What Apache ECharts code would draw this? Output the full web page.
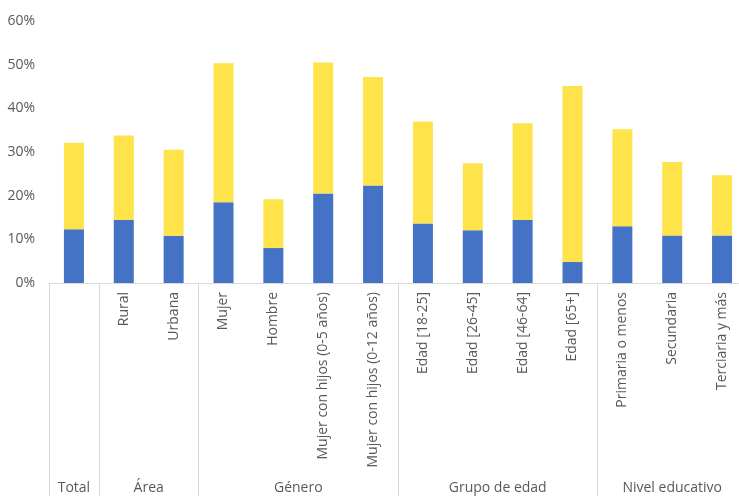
<!DOCTYPE html>
<html>
<head>
<meta charset="utf-8">
<script src="https://cdn.jsdelivr.net/npm/echarts@6/dist/echarts.min.js"></script>
<style>
html,body{margin:0;padding:0;background:#fff;}
#chart{width:739px;height:496px;}
</style>
</head>
<body>
<div id="chart"></div>
<script>
const categories = ['', 'Rural', 'Urbana', 'Mujer', 'Hombre', 'Mujer con hijos (0-5 años)', 'Mujer con hijos (0-12 años)', 'Edad [18-25]', 'Edad [26-45]', 'Edad [46-64]', 'Edad [65+]', 'Primaria o menos', 'Secundaria', 'Terciaria y más'];
const blueValues = [12.3, 14.4, 10.8, 18.5, 8.0, 20.5, 22.3, 13.6, 12.1, 14.4, 4.8, 13.0, 10.9, 10.9];
const yellowValues = [19.8, 19.4, 19.7, 31.8, 11.2, 30.0, 24.9, 23.4, 15.3, 22.2, 40.3, 22.2, 16.8, 13.8];
const groupNames = ['Total', 'Área', 'Género', 'Grupo de edad', 'Nivel educativo'];
const groupSizes = [1, 2, 4, 4, 3];
const yTicks = [0, 10, 20, 30, 40, 50, 60];

// group boundaries and centres (in category units)
const boundaries = [];
const centres = {};
let acc = 0;
groupSizes.forEach((s, i) => {
  boundaries.push(acc);
  centres[(acc + s / 2).toFixed(1)] = groupNames[i];
  acc += s;
});

const chart = echarts.init(document.getElementById('chart'), null, {renderer: 'canvas'});
chart.setOption({
  animation: false,
  grid: {left: 49, right: -8, top: 21, bottom: 213, containLabel: false, outerBoundsMode: 'none'},
  xAxis: [{
    type: 'category',
    data: categories,
    axisLine: {lineStyle: {color: '#D9D9D9', width: 1}},
    axisTick: {
      show: true,
      alignWithLabel: false,
      length: 213,
      interval: (idx) => boundaries.indexOf(idx) >= 0,
      lineStyle: {color: '#D9D9D9', width: 1}
    },
    axisLabel: {
      interval: 0,
      rotate: 90,
      margin: 9,
      color: '#595959',
      fontSize: 14,
      fontFamily: 'Open Sans, sans-serif'
    }
  }, {
    type: 'value',
    position: 'bottom',
    min: 0,
    max: acc,
    interval: 0.5,
    axisLine: {show: false},
    axisTick: {show: false},
    splitLine: {show: false},
    axisLabel: {
      margin: 198,
      color: '#595959',
      fontSize: 14,
      fontFamily: 'Liberation Sans Narrow, Arial Narrow, Open Sans, sans-serif',
      showMinLabel: true,
      showMaxLabel: true,
      formatter: (v) => centres[v.toFixed(1)] || ''
    }
  }],
  yAxis: {
    type: 'value',
    min: yTicks[0],
    max: yTicks[yTicks.length - 1],
    interval: yTicks[1] - yTicks[0],
    axisLine: {show: false},
    axisTick: {show: false},
    splitLine: {show: false},
    axisLabel: {
      margin: 14,
      color: '#595959',
      fontSize: 14,
      fontFamily: 'Open Sans, sans-serif',
      formatter: '{value}%'
    }
  },
  series: [{
    type: 'bar',
    stack: 'a',
    data: blueValues,
    barWidth: 20,
    itemStyle: {color: '#4472C4'}
  }, {
    type: 'bar',
    stack: 'a',
    data: yellowValues,
    barWidth: 20,
    itemStyle: {color: '#FFE34A'}
  }]
});
</script>
</body>
</html>
